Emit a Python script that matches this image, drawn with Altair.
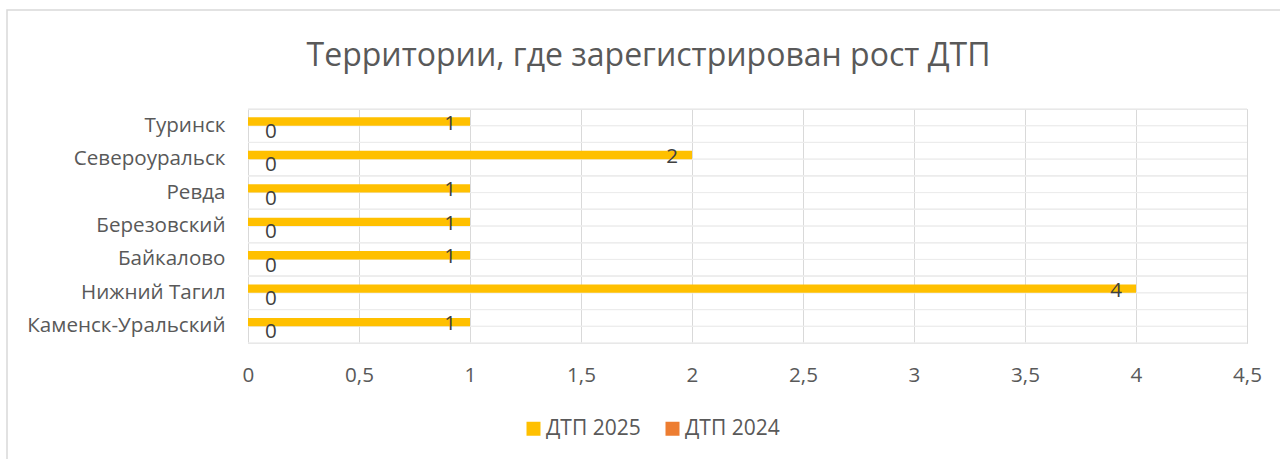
import altair as alt
import pandas as pd

categories = ["Туринск", "Североуральск", "Ревда", "Березовский", "Байкалово", "Нижний Тагил", "Каменск-Уральский"]
dtp_2025 = [1, 2, 1, 1, 1, 4, 1]
dtp_2024 = [0, 0, 0, 0, 0, 0, 0]
series = ["ДТП 2025", "ДТП 2024"]
colors = ["#FFC000", "#ED7D31"]
x_ticks = [0, 0.5, 1, 1.5, 2, 2.5, 3, 3.5, 4, 4.5]

rows = []
for c, v in zip(categories, dtp_2025):
    rows.append({"cat": c, "series": series[0], "value": v})
for c, v in zip(categories, dtp_2024):
    rows.append({"cat": c, "series": series[1], "value": v})
df = pd.DataFrame(rows)

FONT = "Open Sans"
W, H = 999, 234

yscale = alt.Scale(domain=categories, paddingInner=0, paddingOuter=0)
xscale = alt.Scale(domain=[0, 4.5], nice=False, zero=True)
offscale = alt.Scale(domain=series, paddingInner=0, paddingOuter=1)

yaxis = alt.Axis(title=None, ticks=False, domain=False, labelPadding=23, grid=False,
                 labelFontSize=20.6, labelFont=FONT, labelColor="#595959", labelLimit=400)
xaxis = alt.Axis(title=None, values=x_ticks, ticks=False, domain=False,
                 grid=True, gridColor="#d9d9d9", gridWidth=1, labelFlush=False,
                 labelPadding=22, labelFontSize=20.6, labelFont=FONT,
                 labelColor="#595959",
                 labelExpr="replace(format(datum.value, ''), '.', ',')")

base = alt.Chart(df)

def hrule(bp):
    return base.mark_rule(color="#ececec", strokeWidth=1).encode(
        y=alt.Y("cat:N", sort=categories, scale=yscale, bandPosition=bp, axis=yaxis),
        x=alt.XDatum(0, scale=xscale, axis=xaxis),
        x2=alt.datum(4.5),
    )

frame = alt.Chart(pd.DataFrame({"k": [0]})).mark_rect(
    filled=False, stroke="#d9d9d9", strokeWidth=1.5
).encode(
    x=alt.value(-241), x2=alt.value(1100), y=alt.value(-99), y2=alt.value(400)
)

bars = base.mark_bar().encode(
    y=alt.Y("cat:N", sort=categories, scale=yscale, axis=yaxis),
    yOffset=alt.YOffset("series:N", sort=series, scale=offscale),
    x=alt.X("value:Q", scale=xscale, axis=xaxis),
    color=alt.Color("series:N", scale=alt.Scale(domain=series, range=colors),
                    legend=alt.Legend(title=None, orient="none", direction="horizontal",
                                      legendX=275, legendY=309, symbolType="square",
                                      symbolSize=196, symbolStrokeWidth=0,
                                      labelFontSize=21, labelFont=FONT,
                                      labelColor="#595959", columnPadding=21,
                                      labelOffset=2)),
)

lab25 = base.transform_filter(alt.datum.series == series[0]).mark_text(
    align="right", baseline="middle", dx=-14, dy=2, fontSize=20.6, font=FONT, color="#404040"
).encode(
    y=alt.Y("cat:N", sort=categories, scale=yscale, axis=yaxis),
    yOffset=alt.YOffset("series:N", sort=series, scale=offscale),
    x=alt.X("value:Q", scale=xscale, axis=xaxis),
    text=alt.Text("value:Q"),
)

lab24 = base.transform_filter(alt.datum.series == series[1]).mark_text(
    align="left", baseline="middle", dx=17, dy=2, fontSize=20.6, font=FONT, color="#404040"
).encode(
    y=alt.Y("cat:N", sort=categories, scale=yscale, axis=yaxis),
    yOffset=alt.YOffset("series:N", sort=series, scale=offscale),
    x=alt.X("value:Q", scale=xscale, axis=xaxis),
    text=alt.Text("value:Q"),
)

chart = alt.layer(
    frame, hrule(0), hrule(0.5), hrule(1), bars, lab25, lab24
).properties(
    width=W, height=H,
    title=alt.TitleParams("Территории, где зарегистрирован рост ДТП", fontSize=32,
                          font=FONT, fontWeight="normal", color="#595959",
                          anchor="middle", frame="group", dx=-99,
                          baseline="alphabetic", offset=-89),
    autosize=alt.AutoSizeParams(type="none"),
    padding={"left": 248, "top": 109, "right": 33, "bottom": 116},
).configure_view(stroke=None).configure(background="white")

chart.save("out.html", embed_options={"renderer": "svg", "actions": False})
